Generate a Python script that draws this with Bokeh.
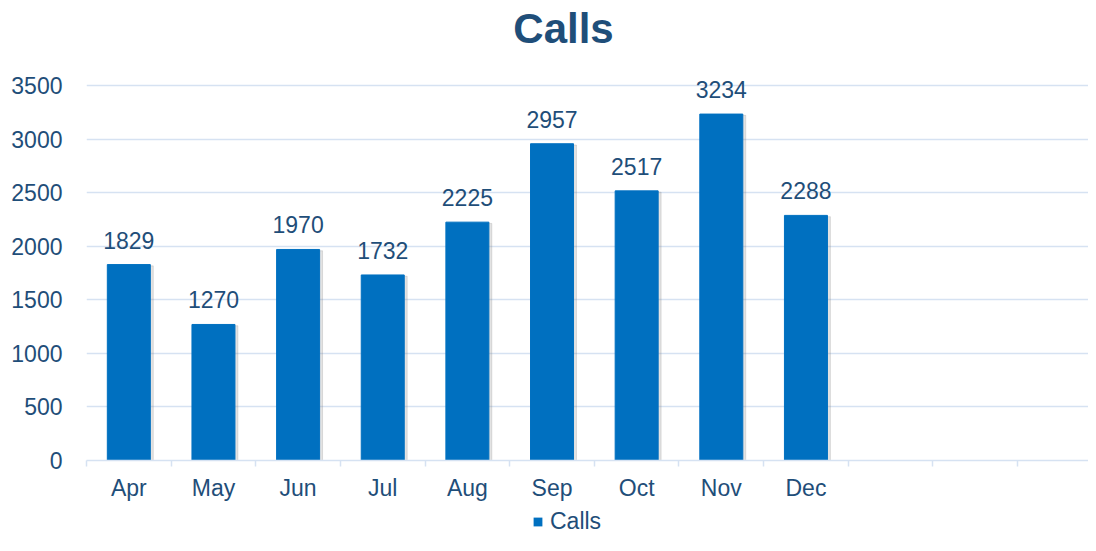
from bokeh.plotting import figure
from bokeh.layouts import column
from bokeh.models import ColumnDataSource, FixedTicker, Range1d, Legend, LegendItem, LabelSet, Label
from bokeh.core.properties import value
from bokeh.embed import file_html
from bokeh.resources import INLINE

months = ["Apr", "May", "Jun", "Jul", "Aug", "Sep", "Oct", "Nov", "Dec", "", "", ""]
calls = [1829, 1270, 1970, 1732, 2225, 2957, 2517, 3234, 2288]
y_ticks = [0, 500, 1000, 1500, 2000, 2500, 3000, 3500]
series_name = "Calls"
title_text = "Calls"

TXT = "#1F4E79"
BAR = "#0070C0"
GRID = "#D6E2F2"
FONT = "Liberation Sans"
W = 1088
LEFT = 86


def strip(h):
    f = figure(width=W, height=h, output_backend="svg", toolbar_location=None,
               x_range=Range1d(0, 1), y_range=Range1d(0, 1),
               min_border_left=0, min_border_right=0, min_border_top=0, min_border_bottom=0)
    f.axis.visible = False
    f.grid.grid_line_color = None
    f.outline_line_color = None
    return f


# title strip
pt = strip(56)
pt.add_layout(Label(x=477, y=28, x_units="screen", y_units="screen", text=title_text,
                    text_align="center", text_baseline="middle", text_font=FONT,
                    text_font_size="42px", text_font_style="bold", text_color=TXT))

xs = [i + 0.5 for i in range(len(calls))]
src = ColumnDataSource(dict(x=xs, top=calls, lab=[str(v) for v in calls],
                            xs=[x + 0.035 for x in xs], ts=[v - 12 for v in calls]))

p = figure(width=W, height=449, output_backend="svg", toolbar_location=None,
           x_range=Range1d(0, (W - LEFT) / 84.64), y_range=Range1d(0, 3650),
           min_border_left=LEFT, min_border_right=0, min_border_top=13, min_border_bottom=45)
p.outline_line_color = None

p.vbar(x="xs", top="ts", width=0.508, source=src, color="#7f7f7f", alpha=0.22)
p.vbar(x="x", top="top", width=0.508, source=src, color=BAR)

labels = LabelSet(x="x", y="top", text="lab", source=src, text_align="center",
                  text_baseline="bottom", y_offset=16, text_font_size="23px",
                  text_font=value(FONT), text_color=TXT)
p.add_layout(labels)

# x axis
p.xaxis.ticker = FixedTicker(ticks=[i + 0.5 for i in range(12)], minor_ticks=list(range(13)))
p.xaxis.major_label_overrides = {i + 0.5: months[i] for i in range(12)}
p.xaxis.major_tick_line_color = None
p.xaxis.major_tick_out = 0
p.xaxis.major_tick_in = 0
p.xaxis.minor_tick_line_color = GRID
p.xaxis.minor_tick_line_width = 1.5
p.xaxis.minor_tick_out = 6
p.xaxis.minor_tick_in = 0
p.xaxis.axis_line_color = GRID
p.xaxis.axis_line_width = 1.5
p.xaxis.major_label_text_font = FONT
p.xaxis.major_label_text_font_size = "23px"
p.xaxis.major_label_text_color = TXT
p.xaxis.major_label_standoff = 8
p.xgrid.grid_line_color = None

# y axis
p.yaxis.ticker = FixedTicker(ticks=y_ticks)
p.yaxis.axis_line_color = None
p.yaxis.major_tick_line_color = None
p.yaxis.major_tick_out = 0
p.yaxis.major_tick_in = 0
p.yaxis.minor_tick_line_color = None
p.yaxis.major_label_text_font = FONT
p.yaxis.major_label_text_font_size = "23px"
p.yaxis.major_label_text_color = TXT
p.yaxis.major_label_standoff = 24
p.ygrid.grid_line_color = GRID
p.ygrid.grid_line_width = 1.5

# legend strip
pl = strip(30)
rl = pl.vbar(x=[0.5], top=[0], bottom=[0], width=0.5, fill_color=BAR, line_color=None)
legend = Legend(items=[LegendItem(label=series_name, renderers=[rl])], orientation="horizontal",
                location=(446, 0), label_text_font=FONT, label_text_font_size="23px",
                label_text_color=TXT, glyph_width=11, glyph_height=11, padding=0, margin=0,
                border_line_color=None, background_fill_alpha=0, label_standoff=7)
pl.add_layout(legend, "center")

layout = column(pt, p, pl, spacing=0)
open("out.html", "w").write(file_html(layout, INLINE))
